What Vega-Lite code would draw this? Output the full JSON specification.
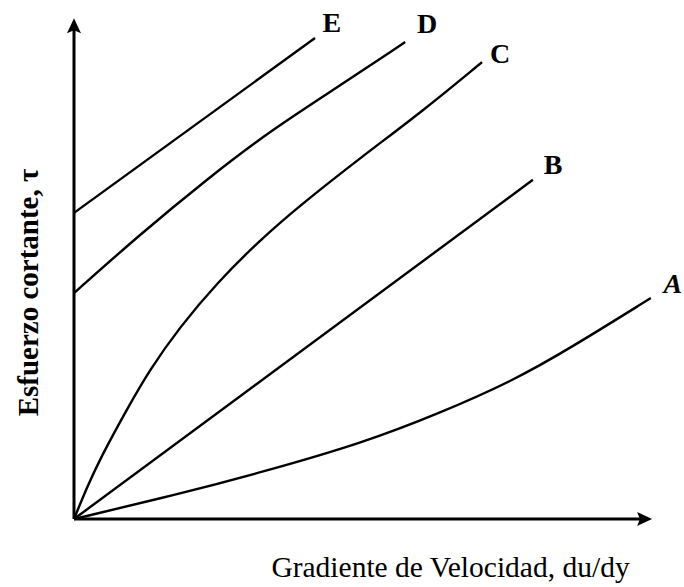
{
  "$schema": "https://vega.github.io/schema/vega-lite/v6.json",
  "width": 578,
  "height": 501,
  "autosize": {"type": "none"},
  "padding": {"left": 74, "top": 18, "right": 32, "bottom": 68},
  "background": "white",
  "config": {"view": {"stroke": null}, "font": "Liberation Serif"},
  "datasets": {
    "curves": [
      {"curve": "A", "x": 0, "y": 0},
      {"curve": "A", "x": 17.5, "y": 4.8},
      {"curve": "A", "x": 32.7, "y": 9.4},
      {"curve": "A", "x": 50.0, "y": 15.2},
      {"curve": "A", "x": 63.0, "y": 21.0},
      {"curve": "A", "x": 76.0, "y": 27.6},
      {"curve": "A", "x": 86.0, "y": 34.2},
      {"curve": "A", "x": 99.8, "y": 44.1},
      {"curve": "B", "x": 0, "y": 0},
      {"curve": "B", "x": 79.4, "y": 67.7},
      {"curve": "C", "x": 0, "y": 0},
      {"curve": "C", "x": 2.2, "y": 6.2},
      {"curve": "C", "x": 4.5, "y": 12.0},
      {"curve": "C", "x": 9.2, "y": 22.0},
      {"curve": "C", "x": 13.1, "y": 29.8},
      {"curve": "C", "x": 18.3, "y": 38.3},
      {"curve": "C", "x": 24.7, "y": 47.1},
      {"curve": "C", "x": 32.2, "y": 55.7},
      {"curve": "C", "x": 39.1, "y": 62.6},
      {"curve": "C", "x": 50.0, "y": 72.5},
      {"curve": "C", "x": 60.3, "y": 81.4},
      {"curve": "C", "x": 70.6, "y": 91.2},
      {"curve": "D", "x": 0, "y": 45.1},
      {"curve": "D", "x": 10.9, "y": 56.3},
      {"curve": "D", "x": 23.5, "y": 68.3},
      {"curve": "D", "x": 33.9, "y": 77.4},
      {"curve": "D", "x": 44.3, "y": 85.2},
      {"curve": "D", "x": 57.3, "y": 95.2},
      {"curve": "E", "x": 0, "y": 61.1},
      {"curve": "E", "x": 41.7, "y": 96.0}
    ],
    "labels": [
      {"label": "A", "x": 103.6, "y": 45.1},
      {"label": "B", "x": 82.9, "y": 68.9},
      {"label": "C", "x": 73.7, "y": 91.0},
      {"label": "D", "x": 61.1, "y": 97.0},
      {"label": "E", "x": 44.6, "y": 97.2}
    ],
    "axes": [
      {"x": 0, "y": 0, "x2": 98.6, "y2": 0},
      {"x": 0, "y": 0, "x2": 0, "y2": 98.3}
    ]
  },
  "layer": [
    {
      "data": {"name": "curves"},
      "mark": {"type": "line", "color": "black", "strokeWidth": 2.4, "interpolate": "basis", "clip": false},
      "encoding": {
        "x": {
          "field": "x", "type": "quantitative",
          "scale": {"domain": [0, 100], "nice": false, "zero": false},
          "axis": {
            "title": "Gradiente de Velocidad, du/dy",
            "domain": false, "ticks": false, "labels": false, "grid": false,
            "titleFont": "Liberation Serif", "titleFontSize": 29.5, "titleFontWeight": "normal",
            "titleColor": "black", "titleBaseline": "alphabetic", "titleAlign": "center",
            "titleX": 376, "titleY": 57
          }
        },
        "y": {
          "field": "y", "type": "quantitative",
          "scale": {"domain": [0, 100], "nice": false, "zero": false},
          "axis": {
            "title": "Esfuerzo cortante, τ",
            "domain": false, "ticks": false, "labels": false, "grid": false,
            "titleFont": "Liberation Serif", "titleFontSize": 29, "titleFontWeight": "bold",
            "titleColor": "black", "titleBaseline": "alphabetic", "titleAlign": "center",
            "titleAngle": -90, "titleX": -37, "titleY": 274
          }
        },
        "detail": {"field": "curve", "type": "nominal"}
      }
    },
    {
      "data": {"name": "axes"},
      "mark": {"type": "rule", "color": "black", "strokeWidth": 3, "clip": false},
      "encoding": {
        "x": {"field": "x", "type": "quantitative", "scale": {"domain": [0, 100], "nice": false, "zero": false}},
        "y": {"field": "y", "type": "quantitative", "scale": {"domain": [0, 100], "nice": false, "zero": false}},
        "x2": {"field": "x2"},
        "y2": {"field": "y2"}
      }
    },
    {
      "data": {"values": [{"x": 98.4, "y": 0}]},
      "mark": {"type": "point", "filled": true, "color": "black", "opacity": 1, "size": 350, "angle": 90,
               "shape": "M0,-1L0.75,0.6L0,0.3L-0.75,0.6Z", "clip": false},
      "encoding": {
        "x": {"field": "x", "type": "quantitative", "scale": {"domain": [0, 100], "nice": false, "zero": false}},
        "y": {"field": "y", "type": "quantitative", "scale": {"domain": [0, 100], "nice": false, "zero": false}}
      }
    },
    {
      "data": {"values": [{"x": 0, "y": 98.1}]},
      "mark": {"type": "point", "filled": true, "color": "black", "opacity": 1, "size": 350, "angle": 0,
               "shape": "M0,-1L0.75,0.6L0,0.3L-0.75,0.6Z", "clip": false},
      "encoding": {
        "x": {"field": "x", "type": "quantitative", "scale": {"domain": [0, 100], "nice": false, "zero": false}},
        "y": {"field": "y", "type": "quantitative", "scale": {"domain": [0, 100], "nice": false, "zero": false}}
      }
    },
    {
      "data": {"name": "labels"},
      "transform": [{"filter": "datum.label !== 'A'"}],
      "mark": {"type": "text", "font": "Liberation Serif", "fontSize": 28, "fontWeight": "bold",
               "color": "black", "align": "center", "baseline": "alphabetic", "clip": false},
      "encoding": {
        "x": {"field": "x", "type": "quantitative", "scale": {"domain": [0, 100], "nice": false, "zero": false}},
        "y": {"field": "y", "type": "quantitative", "scale": {"domain": [0, 100], "nice": false, "zero": false}},
        "text": {"field": "label"}
      }
    },
    {
      "data": {"name": "labels"},
      "transform": [{"filter": "datum.label === 'A'"}],
      "mark": {"type": "text", "font": "Liberation Serif", "fontSize": 28, "fontWeight": "bold", "fontStyle": "italic",
               "color": "black", "align": "center", "baseline": "alphabetic", "clip": false},
      "encoding": {
        "x": {"field": "x", "type": "quantitative", "scale": {"domain": [0, 100], "nice": false, "zero": false}},
        "y": {"field": "y", "type": "quantitative", "scale": {"domain": [0, 100], "nice": false, "zero": false}},
        "text": {"field": "label"}
      }
    }
  ]
}
